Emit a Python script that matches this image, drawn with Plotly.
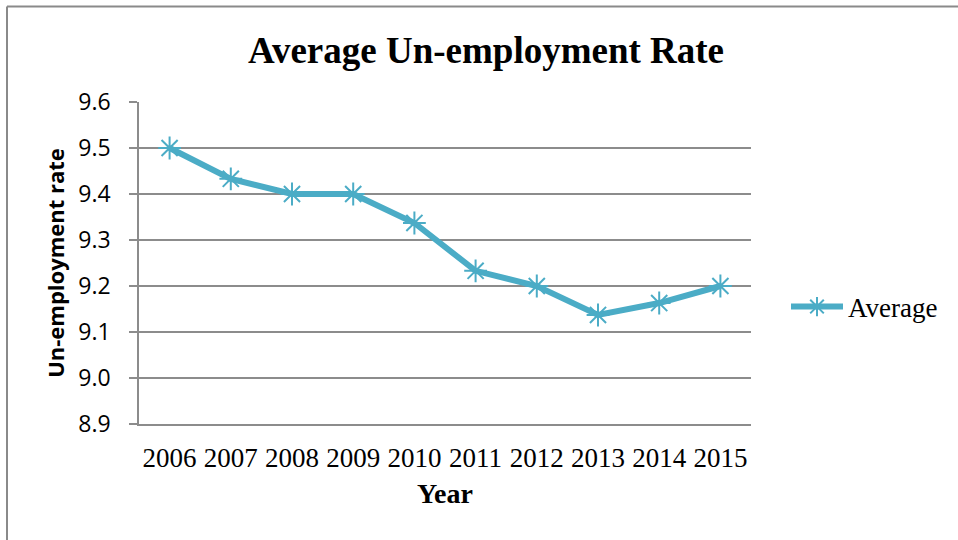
import plotly.graph_objects as go

# Average unemployment rate by year
years = ["2006", "2007", "2008", "2009", "2010", "2011", "2012", "2013", "2014", "2015"]
average = [9.5, 9.433, 9.4, 9.4, 9.337, 9.233, 9.2, 9.137, 9.163, 9.2]
y_ticks = [8.9, 9.0, 9.1, 9.2, 9.3, 9.4, 9.5, 9.6]

LINE = "#4BACC6"
GRID = "#8C8C8C"
SERIF = "Liberation Serif, Times New Roman, serif"
SANS = "Open Sans, Noto Sans, sans-serif"

W, H = 958, 540
L, R, T, B = 139, 751, 102, 424  # plot-area edges in pixels


def px_x(p):
    return (p - L) / (R - L)


def px_y(p):
    return (B - p) / (B - T)


fig = go.Figure()
fig.add_trace(go.Scatter(
    x=years, y=average, name="Average", mode="lines+markers",
    line=dict(color=LINE, width=6),
    marker=dict(symbol="asterisk-open", size=19, color=LINE,
                line=dict(color=LINE, width=2)),
))

fig.update_layout(
    width=W, height=H,
    margin=dict(l=L, r=W - R, t=T, b=H - B),
    paper_bgcolor="white", plot_bgcolor="white",
    title=dict(text="<b>Average Un-employment Rate</b>", x=px_x(486), xref="paper",
               xanchor="center", y=1 - 50 / H, yref="container", yanchor="middle",
               font=dict(family=SERIF, size=37, color="black")),
    showlegend=True,
    legend=dict(x=px_x(786), y=px_y(307), xanchor="left", yanchor="middle",
                font=dict(family=SERIF, size=27, color="black"),
                bgcolor="rgba(0,0,0,0)", itemwidth=52, tracegroupgap=0),
    xaxis=dict(type="category", range=[-0.5, 9.5], showgrid=False,
               showline=True, linecolor=GRID, linewidth=1.5, ticks="",
               ticklabelstandoff=9,
               tickfont=dict(family=SERIF, size=27, color="black"),
               title=dict(text="<b>Year</b>", standoff=11,
                          font=dict(family=SERIF, size=28, color="black"))),
    yaxis=dict(range=[8.9, 9.6], tickvals=y_ticks, tickformat=".1f",
               showgrid=True, gridcolor=GRID, gridwidth=1.5,
               showline=True, linecolor=GRID, linewidth=1.5,
               ticks="outside", ticklen=8, tickcolor=GRID, tickwidth=1.5,
               ticklabelstandoff=14, zeroline=False,
               tickfont=dict(family=SANS, size=23, color="black"),
               title=dict(text="<b>Un-employment rate</b>", standoff=8,
                          font=dict(family=SANS, size=22, color="black"))),
)

# Chart frame (open on the right and bottom)
fig.add_shape(type="line", xref="paper", yref="paper",
              x0=px_x(7), x1=px_x(W + 5), y0=px_y(6.5), y1=px_y(6.5),
              line=dict(color="#8A8A8A", width=2))
fig.add_shape(type="line", xref="paper", yref="paper",
              x0=px_x(7), x1=px_x(7), y0=px_y(6.5), y1=px_y(H + 5),
              line=dict(color="#8A8A8A", width=2))

fig.write_html("out.html")
